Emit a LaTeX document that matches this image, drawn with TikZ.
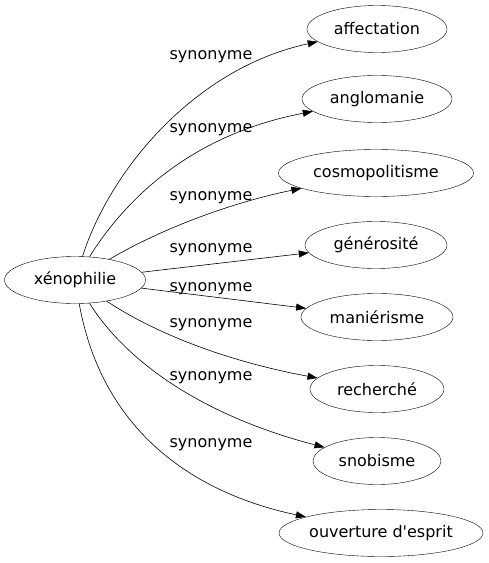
\documentclass[tikz,border=0pt]{standalone}
\usepackage{fontspec}
\setmainfont{DejaVu Sans}[Ligatures=TeXOff]
\usetikzlibrary{shapes.geometric,arrows.meta}
\begin{document}
\begin{tikzpicture}[x=1pt,y=-1pt,
  term/.style={ellipse,draw,inner sep=0pt,minimum height=47pt,font=\fontsize{16}{19}\selectfont},
  lab/.style={font=\fontsize{16}{19}\selectfont,inner sep=0pt},
  edge/.style={-{Triangle[length=10pt,width=7pt]},line width=0.6pt}]
\useasboundingbox (0,0) rectangle (489,563);
\node[term,minimum width=141pt] (x) at (75,280) {xénophilie};
\node[term,minimum width=140pt] (a1) at (377,29) {affectation};
\node[term,minimum width=150pt] (a2) at (377,99) {anglomanie};
\node[term,minimum width=195pt] (a3) at (376,173) {cosmopolitisme};
\node[term,minimum width=142pt] (a4) at (376,245) {générosité};
\node[term,minimum width=152pt] (a5) at (377,317) {maniérisme};
\node[term,minimum width=134pt] (a6) at (377,389) {recherché};
\node[term,minimum width=128pt] (a7) at (377,461) {snobisme};
\node[term,minimum width=204pt] (a8) at (381,533) {ouverture d'esprit};
\node[lab] (l1) at (211,57) {synonyme};
\node[lab] (l2) at (211,130) {synonyme};
\node[lab] (l3) at (211,198) {synonyme};
\node[lab] (l4) at (211,250) {synonyme};
\node[lab] (l5) at (211,289) {synonyme};
\node[lab] (l6) at (211,325) {synonyme};
\node[lab] (l7) at (211,378) {synonyme};
\node[lab] (l8) at (211,445) {synonyme};
\draw[edge] (x) .. controls (110,170) and (195,68) .. (a1);
\draw[edge] (x) .. controls (125,200) and (190,135) .. (a2);
\draw[edge] (x) .. controls (150,235) and (220,205) .. (a3);
\draw[edge] (x) -- (a4);
\draw[edge] (x) -- (a5);
\draw[edge] (x) .. controls (150,330) and (220,360) .. (a6);
\draw[edge] (x) .. controls (125,360) and (200,415) .. (a7);
\draw[edge] (x) .. controls (100,420) and (180,490) .. (a8);
\end{tikzpicture}
\end{document}
